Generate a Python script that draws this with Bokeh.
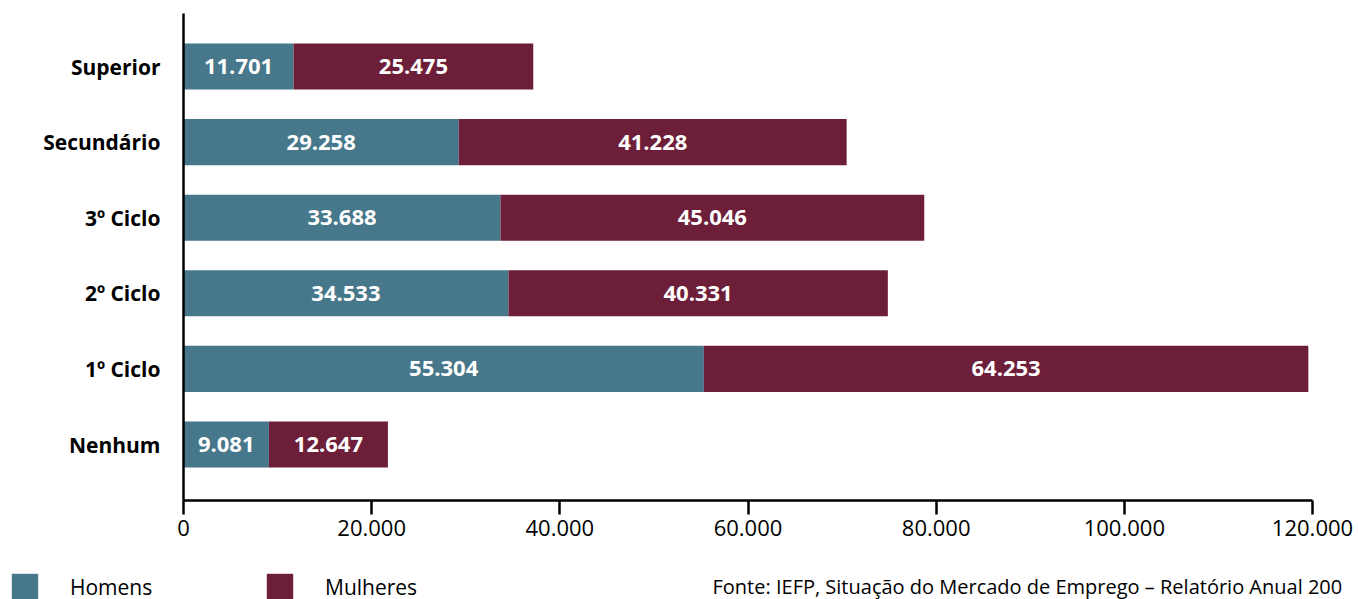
from bokeh.plotting import figure
from bokeh.models import (ColumnDataSource, Range1d, FixedTicker, LabelSet, Label)
from bokeh.core.properties import value
from bokeh.embed import file_html
from bokeh.resources import INLINE

categories = ["Nenhum", "1º Ciclo", "2º Ciclo", "3º Ciclo", "Secundário", "Superior"]
homens = [9081, 55304, 34533, 33688, 29258, 11701]
mulheres = [12647, 64253, 40331, 45046, 41228, 25475]
series_names = ["Homens", "Mulheres"]
colors = ["#47778a", "#6d1f3a"]
x_ticks = [0, 20000, 40000, 60000, 80000, 100000, 120000]
x_tick_labels = ["0", "20.000", "40.000", "60.000", "80.000", "100.000", "120.000"]
source_text = "Fonte: IEFP, Situação do Mercado de Emprego – Relatório Anual 200"

FONT = "Open Sans"
W, H = 1358, 599

# layout geometry (pixels)
AX_LEFT, AX_RIGHT = 183, 1312      # x pixel of 0 and of the last tick
ROW_TOP, ROW_BOTTOM = 66, 444      # y pixel of first / last category centre
AX_TOP, AX_BOTTOM = 13, 500        # y pixel of axis ends

X_MAX = x_ticks[-1]
xpx = (AX_RIGHT - AX_LEFT) / X_MAX
x_start = -AX_LEFT / xpx
x_end = X_MAX + (W - AX_RIGHT) / xpx

n = len(categories)
ypx = (ROW_BOTTOM - ROW_TOP) / (n - 1)
y_start = -(H - ROW_BOTTOM) / ypx
y_end = (n - 1) + ROW_TOP / ypx
y_axis_lo = -(AX_BOTTOM - ROW_BOTTOM) / ypx
y_axis_hi = (n - 1) + (ROW_TOP - AX_TOP) / ypx

def fmt(v):
    return f"{v:,}".replace(",", ".")

ypos = list(range(n))
src = ColumnDataSource(dict(
    y=ypos,
    Homens=homens,
    Mulheres=mulheres,
    h_mid=[h / 2 for h in homens],
    m_mid=[h + m / 2 for h, m in zip(homens, mulheres)],
    h_txt=[fmt(v) for v in homens],
    m_txt=[fmt(v) for v in mulheres],
))

p = figure(
    width=W, height=H,
    x_range=Range1d(x_start, x_end), y_range=Range1d(y_start, y_end),
    output_backend="svg", toolbar_location=None,
    min_border_left=0, min_border_right=0, min_border_top=0, min_border_bottom=0,
)
p.outline_line_color = None
p.xgrid.grid_line_color = None
p.ygrid.grid_line_color = None
p.background_fill_color = "white"
p.border_fill_color = "white"

p.hbar_stack(series_names, y="y", height=0.61, color=colors, line_color=None,
             source=src, legend_label=series_names)

for xcol, tcol in (("h_mid", "h_txt"), ("m_mid", "m_txt")):
    p.add_layout(LabelSet(x=xcol, y="y", text=tcol, source=src,
                          text_align="center", text_baseline="middle",
                          text_color="white", text_font=value(FONT), text_font_style="bold",
                          text_font_size="22px"))

# x axis
xa = p.xaxis[0]
xa.fixed_location = y_axis_lo
xa.bounds = (0, X_MAX)
xa.ticker = FixedTicker(ticks=x_ticks)
xa.major_label_overrides = {t: l for t, l in zip(x_ticks, x_tick_labels)}
xa.axis_line_width = 2.5
xa.axis_line_color = "black"
xa.major_tick_line_width = 2.5
xa.major_tick_line_color = "black"
xa.major_tick_in = 0
xa.major_tick_out = 14
xa.minor_tick_line_color = None
xa.major_label_standoff = 5
xa.major_label_text_font = FONT
xa.major_label_text_font_size = "22px"
xa.major_label_text_color = "black"

# y axis
ya = p.yaxis[0]
ya.fixed_location = 0
ya.bounds = (y_axis_lo, y_axis_hi)
ya.ticker = FixedTicker(ticks=ypos)
ya.major_label_overrides = {i: c for i, c in zip(ypos, categories)}
ya.axis_line_width = 2.5
ya.axis_line_color = "black"
ya.major_tick_line_color = None
ya.major_tick_in = 0
ya.major_tick_out = 0
ya.minor_tick_line_color = None
ya.major_label_standoff = 23
ya.major_label_text_font = FONT
ya.major_label_text_font_style = "bold"
ya.major_label_text_font_size = "21px"
ya.major_label_text_color = "black"

# legend
lg = p.legend[0]
lg.orientation = "horizontal"
lg.location = (8, -4)
lg.glyph_width = 33
lg.glyph_height = 33
lg.label_standoff = 29
lg.label_width = 190
lg.spacing = 3
lg.padding = 0
lg.margin = 0
lg.border_line_color = None
lg.background_fill_alpha = 0
lg.label_text_font = FONT
lg.label_text_font_size = "21px"
lg.label_text_color = "black"

p.add_layout(Label(x=712, y=H - 586, x_units="screen", y_units="screen", text=source_text,
                   text_font=FONT, text_font_size="20px", text_color="black",
                   text_baseline="middle"))

open("out.html", "w").write(file_html(p, INLINE))
